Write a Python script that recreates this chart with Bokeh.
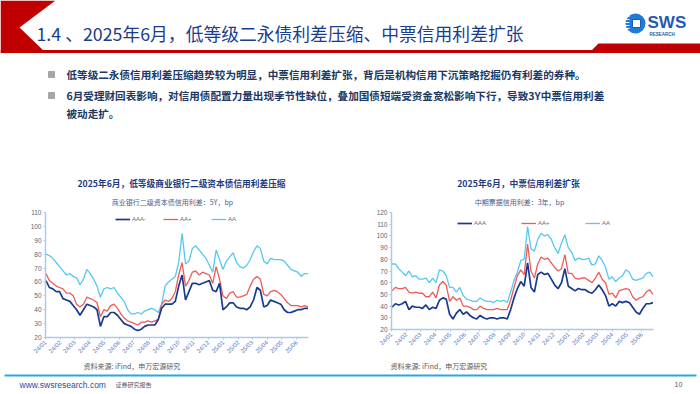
import numpy as np
import pandas as pd
from bokeh.plotting import figure
from bokeh.models import Range1d, FixedTicker, Legend, LegendItem, ColumnDataSource
from bokeh.layouts import column, row
from bokeh.embed import file_html
from bokeh.resources import INLINE
from bokeh.core.properties import value

# ---------------- data ----------------
dates = pd.date_range("2024-01-02", periods=78, freq="7D")
tick_dates = pd.date_range("2024-01-01", "2025-06-01", freq="MS")
tick_labels = ["24/01", "24/02", "24/03", "24/04", "24/05", "24/06", "24/07", "24/08", "24/09",
               "24/10", "24/11", "24/12", "25/01", "25/02", "25/03", "25/04", "25/05", "25/06"]

left_labels = ["AAA-", "AA+", "AA"]
left_aaa_minus = [61, 56, 55, 53, 53, 48, 47, 46, 43, 40,
                  36, 40, 44, 43, 42, 40, 28, 35, 35, 38,
                  38, 36, 33, 30, 29, 28, 26, 25, 26, 28,
                  29, 29, 29, 33, 41, 44, 44, 44, 46, 57,
                  65, 47, 53, 59, 59, 58, 59, 60, 61, 54,
                  53, 59, 40, 42, 45, 45, 42, 41, 41, 40,
                  42, 47, 56, 54, 42, 43, 47, 46, 45, 44,
                  40, 38, 38, 39, 40, 40, 41, 41]
left_aa_plus = [66, 61, 59, 57, 56, 55, 52, 52, 50, 44,
                42, 44, 49, 48, 47, 45, 35, 40, 39, 43,
                44, 41, 37, 34, 32, 31, 30, 29, 31, 31,
                32, 31, 32, 33, 44, 47, 46, 48, 53, 65,
                74, 57, 61, 67, 68, 65, 67, 66, 65, 59,
                71, 62, 50, 48, 52, 53, 49, 49, 50, 51,
                57, 62, 64, 62, 51, 50, 53, 54, 53, 51,
                48, 45, 43, 43, 43, 42, 43, 42]
left_aa = [80, 79, 77, 74, 71, 68, 65, 66, 64, 63,
           58, 62, 69, 66, 62, 57, 49, 55, 56, 55,
           56, 52, 49, 46, 40, 37, 37, 38, 37, 39,
           40, 41, 40, 38, 44, 57, 60, 62, 64, 74,
           95, 73, 75, 84, 86, 83, 80, 77, 72, 67,
           83, 76, 69, 75, 78, 81, 74, 71, 70, 72,
           76, 82, 86, 84, 75, 73, 77, 76, 76, 76,
           75, 72, 69, 68, 67, 64, 66, 66]
left_yticks = [20, 30, 40, 50, 60, 70, 80, 90, 100, 110]

right_labels = ["AAA", "AA+", "AA"]
right_aaa = [39, 42, 41, 42, 44, 37, 40, 39, 39, 38,
             41, 37, 39, 38, 45, 47, 46, 33, 29, 34,
             37, 33, 35, 32, 30, 29, 32, 30, 29, 30,
             30, 29, 30, 30, 29, 37, 47, 55, 61, 57,
             77, 56, 52, 67, 69, 67, 68, 63, 58, 55,
             60, 72, 57, 55, 53, 55, 54, 54, 52, 51,
             54, 58, 54, 49, 40, 42, 40, 44, 43, 44,
             43, 39, 35, 33, 38, 42, 42, 43]
right_aa_plus = [53, 56, 55, 55, 56, 52, 51, 52, 51, 51,
                 48, 48, 52, 47, 58, 61, 58, 44, 48, 45,
                 47, 40, 40, 39, 37, 37, 40, 38, 37, 37,
                 37, 38, 37, 37, 37, 45, 56, 66, 71, 67,
                 93, 70, 64, 76, 82, 80, 81, 77, 73, 70,
                 72, 84, 68, 68, 64, 63, 64, 64, 62, 60,
                 64, 69, 63, 60, 50, 51, 47, 53, 54, 55,
                 54, 48, 45, 47, 48, 52, 54, 50]
right_aa = [76, 76, 72, 69, 66, 70, 65, 66, 63, 63,
            64, 60, 64, 60, 71, 70, 66, 56, 56, 52,
            56, 49, 46, 45, 44, 44, 47, 45, 44, 44,
            43, 45, 44, 45, 43, 52, 62, 69, 79, 80,
            108, 89, 87, 97, 102, 100, 101, 97, 90, 85,
            94, 101, 90, 86, 79, 81, 80, 80, 81, 75,
            76, 83, 79, 73, 63, 65, 61, 64, 66, 71,
            69, 63, 62, 63, 64, 68, 69, 65]
right_yticks = [20, 30, 40, 50, 60, 70, 80, 90, 100, 110, 120]

slide_title = "1.4 、2025年6月，低等级二永债利差压缩、中票信用利差扩张"
bullet_lines = ["低等级二永债信用利差压缩趋势较为明显，中票信用利差扩张，背后是机构信用下沉策略挖掘仍有利差的券种。",
                "6月受理财回表影响，对信用债配置力量出现季节性缺位，叠加国债短端受资金宽松影响下行，导致3Y中票信用利差",
                "被动走扩。"]
left_title = "2025年6月，低等级商业银行二级资本债信用利差压缩"
left_subtitle = "商业银行二级资本债信用利差：5Y，bp"
right_title = "2025年6月，中票信用利差扩张"
right_subtitle = "中期票据信用利差：3年，bp"
source_text = "资料来源: iFind，申万宏源研究"

CJK = "Noto Sans CJK SC"
LAT = "Liberation Sans"
NAVY = "#1F3B7D"
C_DARK = "#1A3A8F"
C_RED = "#EE5B5B"
C_SKY = "#55C8F3"
AXIS_C = "#A9CBEA"


def deco_fig(w, h, y0, y1):
    p = figure(width=w, height=h, x_range=Range1d(0, 700), y_range=Range1d(y1, y0),
               x_axis_location=None, y_axis_location=None, output_backend="svg",
               toolbar_location=None, min_border=0)
    p.outline_line_color = None
    p.xgrid.visible = False
    p.ygrid.visible = False
    return p


def txt(p, x, y, s, size, color, font=CJK, style="normal", align="left"):
    p.text(x=[x], y=[y], text=[s], text_font=value(font), text_font_size=value(size),
           text_color=color, text_font_style=style, text_align=align, text_baseline="middle")


# ---------------- top part (header, bullets, chart titles) ----------------
top = deco_fig(700, 207, 0, 207)
top.patch([0, 55, 19, 45, 0], [0, 0, 27, 52, 52], color="#C00000", line_width=0)
top.patch([0, 700, 700, 0], [49.5, 49.5, 52.5, 52.5], color="#C00000", line_width=0)
top.patch([589, 598, 700, 700], [52, 43, 43, 52], color="#C00000", line_width=0)
txt(top, 36, 32, slide_title, "17.8px", "#1C3D8C")

# logo
top.ellipse(x=[635], y=[23], width=[20], height=[20], fill_color="#1E7BD6", line_color=None)
top.rect(x=[636], y=[23], width=[8], height=[8], fill_color="white", line_color="#1E5BB5", line_width=1)
for yy in [16, 19, 22, 25, 28]:
    top.segment(x0=[624], y0=[yy], x1=[629], y1=[yy], line_color="white", line_width=1)
txt(top, 647, 22, "SWS", "17px", "#1E5BB5", font=LAT, style="bold")
txt(top, 649, 34, "RESEARCH", "4.5px", "#1E5BB5", font=LAT, style="bold")

# bullets
top.scatter(x=[51, 51], y=[74, 95], marker="square", size=6, color="#A6A6A6")
txt(top, 66, 74, bullet_lines[0], "10.6px", "#203864", style="bold")
txt(top, 66, 95, bullet_lines[1], "10.6px", "#203864", style="bold")
txt(top, 66, 113, bullet_lines[2], "10.6px", "#203864", style="bold")

# chart titles
txt(top, 181, 183, left_title, "8.7px", NAVY, style="bold", align="center")
txt(top, 172, 201, left_subtitle, "7px", "#4A5B8C", align="center")
txt(top, 518, 183, right_title, "8.8px", NAVY, style="bold", align="center")
txt(top, 519, 201, right_subtitle, "7px", "#4A5B8C", align="center")


# ---------------- charts ----------------
tick_ms = [float((t - pd.Timestamp("1970-01-01")) // pd.Timedelta("1ms")) for t in tick_dates]


def make_chart(series, labels, yticks, height, borders, legend_loc, spacing):
    bl, br, bt, bb = borders
    p = figure(width=350, height=height, x_axis_type="datetime", output_backend="svg",
               toolbar_location=None,
               x_range=Range1d(pd.Timestamp("2024-01-01"), pd.Timestamp("2025-06-25")),
               y_range=Range1d(yticks[0], yticks[-1]),
               min_border_left=bl, min_border_right=br, min_border_top=bt, min_border_bottom=bb)
    p.align = "start"
    p.outline_line_color = None
    p.xgrid.visible = False
    p.ygrid.visible = False
    colors = [C_DARK, C_RED, C_SKY]
    widths = [1.7, 1.3, 1.3]
    rends = [None, None, None]
    for i in [2, 1, 0]:
        src = ColumnDataSource(dict(x=dates, y=series[i]))
        rends[i] = p.line("x", "y", source=src, line_color=colors[i], line_width=widths[i])
    items = [LegendItem(label=labels[i], renderers=[rends[i]]) for i in range(3)]
    leg = Legend(items=items, orientation="horizontal", location=legend_loc,
                 background_fill_alpha=0, border_line_alpha=0, padding=0, margin=0,
                 spacing=spacing, glyph_width=15, glyph_height=8, label_standoff=2,
                 label_text_font=LAT, label_text_font_size="6px", label_text_color="#5B6B8B",
                 label_height=8)
    p.add_layout(leg)

    p.xaxis.ticker = FixedTicker(ticks=tick_ms)
    p.xaxis.major_label_overrides = {tick_ms[i]: tick_labels[i] for i in range(len(tick_ms))}
    p.xaxis.major_label_orientation = np.pi / 4
    p.yaxis.ticker = FixedTicker(ticks=yticks)
    for ax in [p.xaxis, p.yaxis]:
        ax.axis_line_color = AXIS_C
        ax.axis_line_width = 1.5
        ax.major_tick_line_color = AXIS_C
        ax.major_tick_out = 2
        ax.major_tick_in = 0
        ax.minor_tick_out = 0
        ax.minor_tick_in = 0
        ax.major_label_standoff = 2
        ax.major_label_text_font = LAT
    p.xaxis.major_label_text_font_size = "6px"
    p.xaxis.major_label_text_color = "#5877BE"
    p.yaxis.major_label_text_font_size = "6.5px"
    p.yaxis.major_label_text_color = "#5A6578"
    return p


left = make_chart([left_aaa_minus, left_aa_plus, left_aa], left_labels, left_yticks,
                  154, (45, 42, 5, 24), (70, 114), 11)
right = make_chart([right_aaa, right_aa_plus, right_aa], right_labels, right_yticks,
                   146, (41, 47, 5, 24), (66, 102), 27)

# ---------------- footer ----------------
foot = deco_fig(700, 33, 361, 394)
txt(foot, 83, 365, source_text, "7px", "#595959")
txt(foot, 390, 365, source_text, "7px", "#595959")
foot.segment(x0=[4], y0=[375], x1=[696], y1=[375], line_color="#29A8E0", line_width=2)
txt(foot, 19, 384, "www.swsresearch.com", "8.5px", "#1F4E9E", font=LAT)
txt(foot, 115, 384, "证券研究报告", "6px", "#595959")
txt(foot, 674, 384, "10", "7px", "#595959", font=LAT)

layout = column(top, row(left, right, spacing=0), foot, spacing=0)
open("out.html", "w").write(file_html(layout, INLINE))
